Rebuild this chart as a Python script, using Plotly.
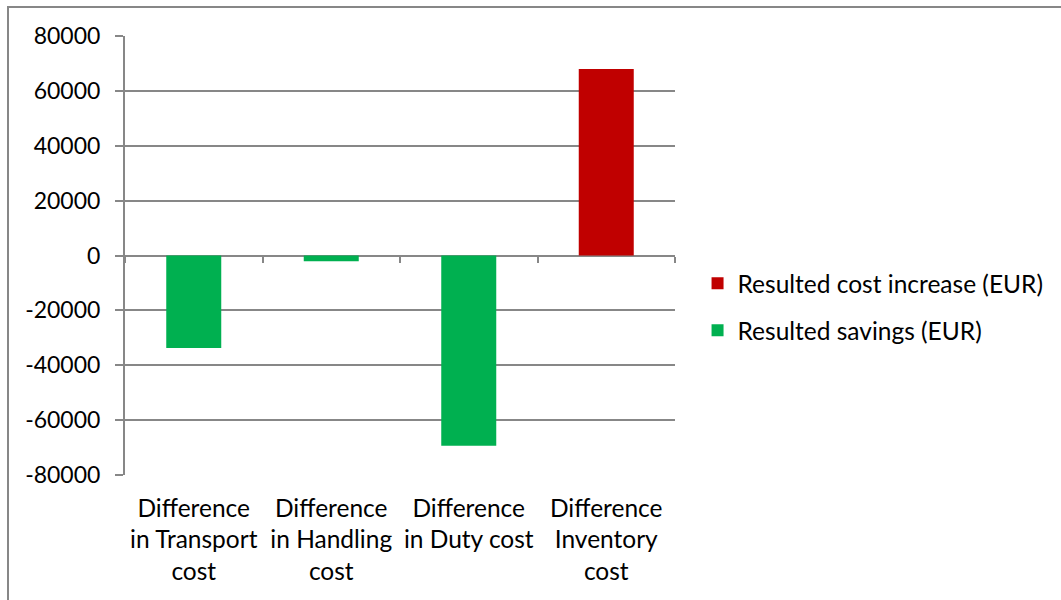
import plotly.graph_objects as go

# Cost differences between the two supply-chain set-ups (EUR)
categories = [
    "Difference<br>in Transport<br>cost",
    "Difference<br>in Handling<br>cost",
    "Difference<br>in Duty cost",
    "Difference<br>Inventory<br>cost",
]
cost_increase = [None, None, None, 68000]
savings = [-33700, -2100, -69300, None]

y_ticks = [-80000, -60000, -40000, -20000, 0, 20000, 40000, 60000, 80000]

GRID = "#878787"
FONT = "Lato, Open Sans, sans-serif"

fig = go.Figure()
fig.add_trace(go.Bar(
    x=categories, y=cost_increase, name="Resulted cost increase (EUR)",
    marker=dict(color="#C00000", line=dict(width=0)), legendgroup="a",
))
fig.add_trace(go.Bar(
    x=categories, y=savings, name="Resulted savings (EUR)",
    marker=dict(color="#00B050", line=dict(width=0)), legendgroup="b",
))

# category-boundary ticks sitting on the zero line
fig.add_trace(go.Scatter(x=[None], y=[None], xaxis="x2", showlegend=False, hoverinfo="skip"))

fig.update_layout(
    width=1061, height=600,
    margin=dict(l=125, r=386, t=36, b=125),
    paper_bgcolor="white", plot_bgcolor="white",
    barmode="relative", bargap=0.6,
    font=dict(family=FONT, size=24, color="#000000"),
    xaxis=dict(
        type="category", range=[-0.5, 3.5], showgrid=False, zeroline=False,
        showline=False, ticks="", tickfont=dict(size=24.5), ticklabelstandoff=16,
    ),
    xaxis2=dict(
        overlaying="x", anchor="free", position=0.5, side="bottom",
        range=[-0.5, 3.5], tickvals=[-0.5, 0.5, 1.5, 2.5, 3.5],
        ticks="outside", ticklen=6, tickwidth=2, tickcolor=GRID,
        showticklabels=False, showgrid=False, zeroline=False, showline=False,
    ),
    yaxis=dict(
        range=[-80000, 80000], tickvals=y_ticks,
        ticktext=[str(v) for v in y_ticks],
        showgrid=True, gridcolor=GRID, gridwidth=2,
        zeroline=True, zerolinecolor=GRID, zerolinewidth=2,
        showline=True, linecolor=GRID, linewidth=2,
        ticks="outside", ticklen=8, tickwidth=2, tickcolor=GRID,
        tickfont=dict(size=23), ticklabelstandoff=10,
    ),
    legend=dict(
        x=1.041, y=0.383, xanchor="left", yanchor="middle",
        traceorder="grouped", tracegroupgap=12,
        font=dict(size=24.5), itemwidth=30,
    ),
    shapes=[
        dict(type="rect", xref="paper", yref="paper",
             x0=(8 - 125) / 550, x1=(1070 - 125) / 550,
             y0=(475 - 610) / 439, y1=(475 - 7) / 439,
             line=dict(color=GRID, width=2), layer="below"),
    ],
)

fig.write_html("out.html")
